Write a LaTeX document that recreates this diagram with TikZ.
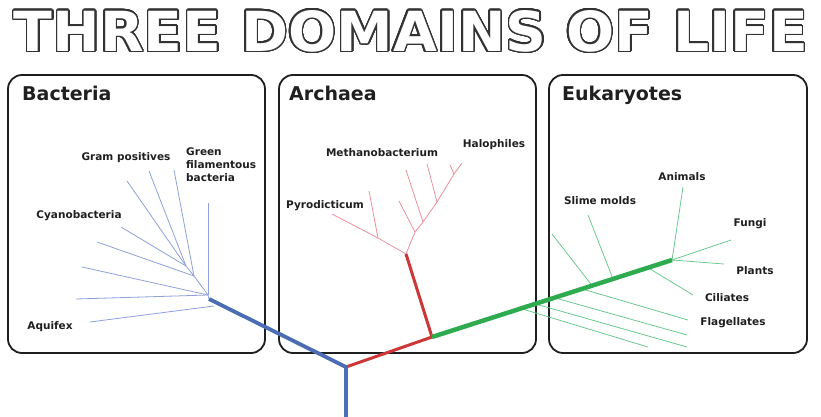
\documentclass[tikz,border=0pt]{standalone}
\usepackage{fontspec}
\setmainfont{DejaVu Sans}
\usepackage{graphicx}
\usepackage{contour}
\contourlength{1.4pt}
\contournumber{32}
\usetikzlibrary{calc,positioning}
\definecolor{bactblue}{HTML}{4A6DB5}
\definecolor{bactthin}{HTML}{8FA0DA}
\definecolor{archred}{HTML}{CC3838}
\definecolor{archthin}{HTML}{EA909C}
\definecolor{eukgreen}{HTML}{2EAA4F}
\definecolor{eukthin}{HTML}{6CC890}
\definecolor{boxline}{HTML}{1E1E1E}

\begin{document}
\begin{tikzpicture}[
    x=1pt, y=-1pt,
    every node/.style={inner sep=0pt, text=black!88},
    domainbox/.style={draw=boxline, line width=1.8pt, rounded corners=14pt, minimum width=#1, minimum height=278pt},
    domaintitle/.style={font=\fontsize{19}{22}\selectfont\bfseries, anchor=base west},
    leaflabel/.style={font=\fontsize{10.5}{13}\selectfont\bfseries, align=left},
    trunk/.style={draw=#1, line width=3.8pt},
    twig/.style={draw=#1, line width=0.8pt}
]
    \useasboundingbox (0,0) rectangle (821,417);

    % Heading
    \node (heading) at (411,32) {\resizebox{794pt}{41pt}{\fontsize{52}{60}\selectfont\bfseries\textcolor{white}{\contour{black!80}{THREE DOMAINS OF LIFE}}}};

    % Domain panels
    \node[domainbox=257pt] (bactbox) at (136.5,214) {};
    \node[domainbox=257pt] (archbox) at (407.5,214) {};
    \node[domainbox=258pt] (eukbox) at (678,214) {};

    \node[domaintitle] (bacttitle) at (22,101) {Bacteria};
    \node[domaintitle] (archtitle) at (289,101) {Archaea};
    \node[domaintitle] (euktitle) at (562,101) {Eukaryotes};

    % Branch points
    \coordinate (root) at (346,367);
    \coordinate (stem) at (346,417);
    \coordinate (bnode) at (209,299);
    \coordinate (rfork) at (432,337);
    \coordinate (anode) at (406,254);
    \coordinate (enode) at (672,260);

    % Bacteria twigs
    \coordinate (bj1) at (186,266);
    \coordinate (bj2) at (194,276);
    \coordinate (bhub) at (208,295);
    \coordinate (aqend) at (214,306);
    \foreach \tip in {(127,181), (149,171), (121,227)}
        \draw[twig=bactthin] \tip -- (bj1);
    \foreach \tip in {(174,170), (97,242)}
        \draw[twig=bactthin] \tip -- (bj2);
    \foreach \tip in {(82,267), (76,299), (208,203)}
        \draw[twig=bactthin] \tip -- (bhub);
    \draw[twig=bactthin] (bj1) -- (bj2) -- (bhub) -- (bnode);
    \draw[twig=bactthin] (90,322) -- (aqend);

    % Archaea twigs
    \coordinate (p1) at (378,238);
    \coordinate (s1) at (415,232);
    \coordinate (s2) at (423,222);
    \coordinate (s3) at (437,202);
    \coordinate (s4) at (454,174);
    \draw[twig=archthin] (anode) -- (p1) -- (332,214);
    \draw[twig=archthin] (p1) -- (369,191);
    \draw[twig=archthin] (anode) -- (s1) -- (s2) -- (s3) -- (s4) -- (462,163);
    \draw[twig=archthin] (s1) -- (399,201);
    \draw[twig=archthin] (s2) -- (406,170);
    \draw[twig=archthin] (s3) -- (427,164);
    \draw[twig=archthin] (s4) -- (450,165);

    % Eukaryote twigs
    \foreach \tip in {(683,187), (731,240), (724,264)}
        \draw[twig=eukthin] (enode) -- \tip;
    \foreach \pos/\tx/\ty in {0.9/693/295, 0.754/588/215, 0.667/552/234, 0.625/688/320, 0.51/687/335, 0.43/687/347, 0.37/648/347}
        \draw[twig=eukthin] ($(rfork)!\pos!(enode)$) -- (\tx,\ty);

    % Main trunks
    \draw[trunk=archred, line width=3pt] (root) -- (rfork) -- (anode);
    \draw[trunk=eukgreen, line width=4.5pt] (rfork) -- (enode);
    \draw[trunk=bactblue] (stem) -- (root) -- (bnode);

    % Leaf labels
    \node[leaflabel] (gram) at (126,158) {Gram positives};
    \node[leaflabel, anchor=west] (greenfil) at (186,165) {Green\\filamentous\\bacteria};
    \node[leaflabel] (cyano) at (79,216) {Cyanobacteria};
    \node[leaflabel] (aquifex) at (50,327) {Aquifex};
    \node[leaflabel] (methano) at (382,153) {Methanobacterium};
    \node[leaflabel] (halo) at (494,145) {Halophiles};
    \node[leaflabel] (pyro) at (325,206) {Pyrodicticum};
    \node[leaflabel] (animals) at (682,177) {Animals};
    \node[leaflabel] (slime) at (600,201) {Slime molds};
    \node[leaflabel] (fungi) at (750,224) {Fungi};
    \node[leaflabel] (plants) at (755,271) {Plants};
    \node[leaflabel] (ciliates) at (727,298) {Ciliates};
    \node[leaflabel] (flag) at (733,323) {Flagellates};
\end{tikzpicture}
\end{document}
